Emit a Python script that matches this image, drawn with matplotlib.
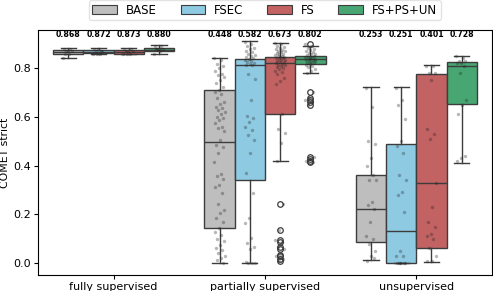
import numpy as np
import matplotlib
matplotlib.use("Agg")
import matplotlib.pyplot as plt
from matplotlib.patches import Patch

categories = ["fully supervised", "partially supervised", "unsupervised"]
methods = ["BASE", "FSEC", "FS", "FS+PS+UN"]
colors = ["#bebebe", "#8ecae2", "#c26262", "#48a673"]

# mean annotations [category][method]
means = [[0.868, 0.872, 0.873, 0.880],
         [0.448, 0.582, 0.673, 0.802],
         [0.253, 0.251, 0.401, 0.728]]

# box statistics [category][method]
whislo = [[0.840, 0.857, 0.857, 0.860],
          [0.001, 0.000, 0.420, 0.781],
          [0.012, 0.000, 0.005, 0.411]]
q1 = [[0.860, 0.862, 0.860, 0.870],
      [0.142, 0.343, 0.610, 0.819],
      [0.085, 0.001, 0.060, 0.655]]
med = [[0.868, 0.868, 0.868, 0.876],
       [0.495, 0.812, 0.822, 0.836],
       [0.220, 0.131, 0.327, 0.808]]
q3 = [[0.876, 0.874, 0.875, 0.882],
      [0.710, 0.836, 0.844, 0.849],
      [0.361, 0.488, 0.778, 0.826]]
whishi = [[0.883, 0.883, 0.885, 0.894],
          [0.842, 0.911, 0.905, 0.890],
          [0.723, 0.721, 0.812, 0.849]]
fliers = [[[], [], [], []],
          [[], [],
           [0.242, 0.135, 0.094, 0.088, 0.064, 0.058, 0.033, 0.028, 0.016, 0.010],
           [0.901, 0.703, 0.676, 0.669, 0.662, 0.648, 0.434, 0.428, 0.420, 0.416]],
          [[], [], [], []]]

# individual observations (strip points) [category][method]
points = [
    [[0.84, 0.86, 0.86, 0.87, 0.87, 0.88, 0.88, 0.87],
     [0.86, 0.86, 0.87, 0.87, 0.88, 0.88, 0.87, 0.86],
     [0.86, 0.86, 0.87, 0.87, 0.87, 0.88, 0.88, 0.86],
     [0.86, 0.87, 0.88, 0.88, 0.88, 0.89, 0.89, 0.88]],
    [[0.840, 0.833, 0.819, 0.808, 0.799, 0.789, 0.778, 0.771, 0.764, 0.751,
      0.740, 0.723, 0.710, 0.703, 0.696, 0.676, 0.662, 0.655, 0.641, 0.635,
      0.628, 0.621, 0.611, 0.600, 0.594, 0.587, 0.576, 0.559, 0.553, 0.543,
      0.505, 0.484, 0.477, 0.450, 0.416, 0.365, 0.357, 0.347, 0.320, 0.311,
      0.286, 0.242, 0.217, 0.204, 0.183, 0.170, 0.142, 0.128, 0.115, 0.097,
      0.092, 0.074, 0.060, 0.053, 0.040, 0.029, 0.019, 0.012, 0.001],
     [0.908, 0.900, 0.893, 0.885, 0.880, 0.872, 0.865, 0.860, 0.855, 0.850,
      0.846, 0.842, 0.838, 0.835, 0.830, 0.826, 0.822, 0.818, 0.815, 0.812,
      0.778, 0.754, 0.669, 0.603, 0.594, 0.580, 0.557, 0.548, 0.525, 0.505,
      0.450, 0.368, 0.289, 0.183, 0.165, 0.101, 0.083, 0.067, 0.056, 0.004,
      0.002, 0.001, 0.000],
     [0.905, 0.898, 0.892, 0.888, 0.884, 0.880, 0.876, 0.872, 0.869, 0.866,
      0.863, 0.860, 0.857, 0.855, 0.852, 0.850, 0.848, 0.846, 0.843, 0.840,
      0.838, 0.835, 0.832, 0.830, 0.827, 0.824, 0.821, 0.818, 0.815, 0.812,
      0.808, 0.804, 0.800, 0.795, 0.790, 0.784, 0.778, 0.760, 0.748, 0.735,
      0.610, 0.552, 0.535, 0.492, 0.420, 0.242, 0.135, 0.094, 0.088, 0.064,
      0.058, 0.033, 0.028, 0.016, 0.010],
     [0.901, 0.890, 0.885, 0.880, 0.876, 0.872, 0.868, 0.864, 0.860, 0.857,
      0.854, 0.851, 0.848, 0.846, 0.843, 0.840, 0.838, 0.836, 0.834, 0.832,
      0.830, 0.828, 0.826, 0.823, 0.820, 0.817, 0.814, 0.810, 0.805, 0.798,
      0.790, 0.781, 0.703, 0.676, 0.669, 0.662, 0.648, 0.434, 0.428, 0.420,
      0.416]],
    [[0.72, 0.64, 0.50, 0.49, 0.43, 0.40, 0.36, 0.34, 0.34, 0.25,
      0.24, 0.22, 0.17, 0.11, 0.10, 0.08, 0.05, 0.03, 0.01, 0.02],
     [0.72, 0.67, 0.65, 0.59, 0.50, 0.48, 0.45, 0.36, 0.34, 0.29,
      0.28, 0.21, 0.05, 0.03, 0.03, 0.00, 0.00, 0.00, 0.00, 0.00, 0.00],
     [0.81, 0.81, 0.78, 0.78, 0.75, 0.55, 0.53, 0.51, 0.33, 0.23,
      0.17, 0.15, 0.12, 0.11, 0.10, 0.06, 0.03, 0.01, 0.01],
     [0.85, 0.84, 0.83, 0.83, 0.82, 0.82, 0.81, 0.78, 0.67, 0.65,
      0.61, 0.44, 0.43, 0.42]],
]

fig = plt.figure(figsize=(4.93, 2.91), dpi=100)
ax = fig.add_axes([0.077, 0.055, 0.921, 0.842])

edge = "#3d3d3d"
n_m = len(methods)
bw = 0.8 / n_m
for ci in range(len(categories)):
    for mi in range(n_m):
        pos = ci - 0.4 + bw * (mi + 0.5)
        stats = [dict(med=med[ci][mi], q1=q1[ci][mi], q3=q3[ci][mi],
                      whislo=whislo[ci][mi], whishi=whishi[ci][mi],
                      fliers=fliers[ci][mi], mean=means[ci][mi])]
        ax.bxp(stats, positions=[pos], widths=bw, patch_artist=True,
               showmeans=False, manage_ticks=False,
               boxprops=dict(facecolor=colors[mi], edgecolor=edge, linewidth=1.0),
               medianprops=dict(color=edge, linewidth=1.0),
               whiskerprops=dict(color=edge, linewidth=1.0),
               capprops=dict(color=edge, linewidth=1.0),
               flierprops=dict(marker="o", markerfacecolor="none",
                               markeredgecolor=edge, markersize=4,
                               markeredgewidth=0.9))
        vals = np.asarray(points[ci][mi])
        idx = np.arange(len(vals))
        jit = (((idx * 0.6180339) % 1.0) - 0.5) * 0.07
        ax.scatter(pos + jit, vals, s=6, color="#222222", alpha=0.32,
                   linewidths=0, zorder=3)
        ax.text(pos, 0.918, f"{means[ci][mi]:.3f}", ha="center", va="bottom",
                fontsize=5.6, fontweight="bold")

ax.set_xlim(-0.5, len(categories) - 0.5)
ax.set_ylim(-0.049, 0.957)
ax.set_xticks(range(len(categories)))
ax.set_xticklabels(categories, fontsize=8)
ax.set_yticks([0.0, 0.2, 0.4, 0.6, 0.8])
ax.set_yticklabels(["0.0", "0.2", "0.4", "0.6", "0.8"], fontsize=8)
ax.tick_params(length=3, width=0.8, pad=2)
ax.set_ylabel("COMET strict", fontsize=7.8, labelpad=2)
for s in ax.spines.values():
    s.set_linewidth(0.8)

handles = [Patch(facecolor=c, edgecolor=edge, linewidth=0.8) for c in colors]
fig.legend(handles, methods, loc="center", bbox_to_anchor=(0.537, 0.965),
           ncol=4, fontsize=8.5, frameon=True, handlelength=2.1,
           columnspacing=2.0, handletextpad=0.75, borderpad=0.3,
           edgecolor="#dddddd", fancybox=True)

fig.savefig("out.png", dpi=100)
